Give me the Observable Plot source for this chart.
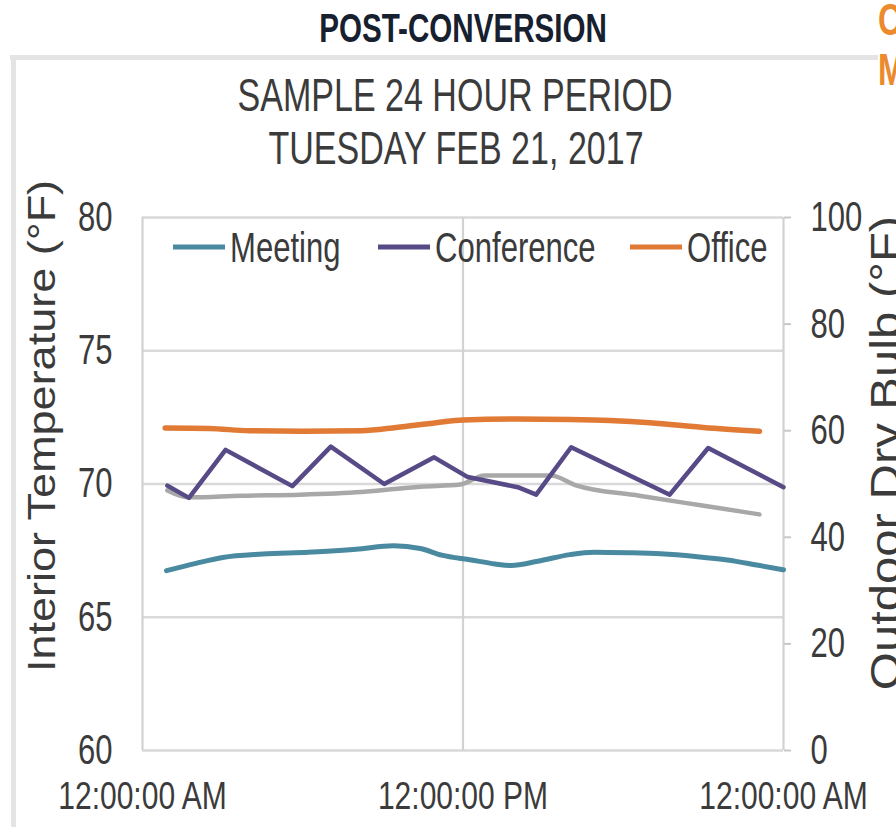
<!DOCTYPE html>
<html>
<head>
<meta charset="utf-8">
<script src="https://cdn.jsdelivr.net/npm/d3@7"></script>
<script src="https://cdn.jsdelivr.net/npm/@observablehq/plot@0.6"></script>
<style>
html, body { margin: 0; padding: 0; background: #fff; overflow: hidden; }
#chart { position: relative; width: 896px; height: 827px; }
</style>
</head>
<body>
<div id="chart"></div>
<script>
// ---- text ----
const pageTitle = "POST-CONVERSION";
const cornerText = ["C", "M"];
const chartTitle = ["SAMPLE 24 HOUR PERIOD", "TUESDAY FEB 21, 2017"];
const leftAxisTitle = "Interior Temperature (°F)";
const rightAxisTitle = "Outdoor Dry Bulb (°F)";
const seriesNames = ["Meeting", "Conference", "Office"];
const seriesColors = ["#4a8aa0", "#574a86", "#e07a35"];
const outdoorColor = "#a8a8a8";

// ---- ticks ----
const xTicks = [0, 12, 24]; // hours of the day
const xTickLabels = ["12:00:00 AM", "12:00:00 PM", "12:00:00 AM"];
const leftTicks = [60, 65, 70, 75, 80];
const rightTicks = [0, 20, 40, 60, 80, 100];

// ---- series (hour of day, °F) ----
const meetingHours = [0.9, 2, 3, 4.5, 6.2, 8, 9.4, 10.4, 11.2, 12.3, 13.2, 13.8, 14.8, 16, 16.9, 18.2, 19.4, 20.7, 21.9, 23, 24];
const meetingTemps = [66.75, 67.02, 67.24, 67.37, 67.44, 67.55, 67.68, 67.58, 67.33, 67.15, 67.0, 66.94, 67.1, 67.35, 67.44, 67.42, 67.38, 67.28, 67.15, 66.96, 66.78];

const conferenceHours = [0.93, 1.74, 3.11, 5.61, 7.05, 9.05, 10.92, 12.18, 14.05, 14.74, 16.05, 19.74, 21.18, 24];
const conferenceTemps = [69.94, 69.48, 71.28, 69.92, 71.4, 70.0, 71.0, 70.26, 69.88, 69.6, 71.38, 69.6, 71.35, 69.88];

const officeHours = [0.85, 2.5, 4, 6, 8.2, 9.5, 11, 12, 14, 16, 17.5, 19, 21, 23.1];
const officeTemps = [72.1, 72.08, 72.0, 71.98, 72.0, 72.12, 72.3, 72.4, 72.44, 72.42, 72.38, 72.3, 72.12, 71.98];

const outdoorHours = [0.93, 1.74, 3.7, 5.9, 8.2, 10.4, 11.9, 12.8, 15.3, 16.2, 18.6, 20.9, 23.1];
const outdoorTemps = [48.8, 47.5, 47.8, 48.0, 48.5, 49.5, 49.9, 51.6, 51.6, 49.8, 47.8, 46.0, 44.3];

// secondary axis (0–100 °F outdoor) mapped onto the interior axis (60–80 °F)
const toInterior = d3.scaleLinear().domain([0, 100]).range([60, 80]);

const rows = (name, hours, temps) => hours.map((h, i) => ({series: name, hour: h, temp: temps[i]}));
const meeting = rows(seriesNames[0], meetingHours, meetingTemps);
const conference = rows(seriesNames[1], conferenceHours, conferenceTemps);
const office = rows(seriesNames[2], officeHours, officeTemps);
const outdoor = outdoorHours.map((h, i) => ({hour: h, temp: toInterior(outdoorTemps[i])}));

const FONT = "'Liberation Sans', Arial, sans-serif";
const TEXT = "#3b3b3b";
const GRID = "#d9d9d9";
const SQ = 0.74; // horizontal squeeze of text
const SQX = 0.79; // squeeze of x tick labels

const plot = Plot.plot({
  width: 896,
  height: 827,
  marginLeft: 142,
  marginRight: 113,
  marginTop: 217,
  marginBottom: 77,
  style: {fontFamily: FONT, background: "transparent", overflow: "visible"},
  x: {domain: [0, 24]},
  y: {domain: [60, 80]},
  marks: [
    Plot.gridY(leftTicks, {stroke: GRID, strokeOpacity: 1, strokeWidth: 2.5}),
    Plot.gridX(xTicks, {stroke: "#d2d2d2", strokeOpacity: 1, strokeWidth: 2.2}),
    Plot.line(outdoor, {x: "hour", y: "temp", stroke: outdoorColor, strokeWidth: 4.5, curve: "monotone-x"}),
    Plot.line(meeting, {x: "hour", y: "temp", stroke: seriesColors[0], strokeWidth: 5, curve: "monotone-x"}),
    Plot.line(conference, {x: "hour", y: "temp", stroke: seriesColors[1], strokeWidth: 4.5}),
    Plot.line(office, {x: "hour", y: "temp", stroke: seriesColors[2], strokeWidth: 5.5, curve: "monotone-x"}),
    Plot.axisY(leftTicks, {anchor: "left", tickSize: 0, tickPadding: 30, fontSize: 42, fill: TEXT, label: null}),
    Plot.axisY(rightTicks.map(toInterior), {
      anchor: "right", tickSize: 7, tickPadding: 20, stroke: "#c8c8c8", strokeWidth: 2,
      fill: TEXT, fontSize: 42, label: null,
      tickFormat: d => String(Math.round(toInterior.invert(d)))
    }),
    Plot.axisX(xTicks, {
      anchor: "bottom", tickSize: 0, tickPadding: 32, fontSize: 38, fill: TEXT, label: null,
      tickFormat: d => xTickLabels[xTicks.indexOf(d)]
    })
  ]
});

document.getElementById("chart").appendChild(plot);
const svg = d3.select(plot);

// squeeze Plot's own texts horizontally
svg.selectAll("text").each(function () {
  const g = this.closest("g");
  const isX = g && (g.getAttribute("aria-label") || "").startsWith("x-axis");
  const s = isX ? SQX : SQ;
  const t = this.getAttribute("transform");
  if (t) this.setAttribute("transform", t + ` scale(${s},1)`);
  else {
    const x = parseFloat(this.getAttribute("x")) || 0;
    this.setAttribute("x", x / s);
    this.setAttribute("transform", `scale(${s},1)`);
  }
});

// outer panel border (drawn beneath everything)
const border = svg.insert("g", ":first-child");
border.append("rect").attr("x", 10).attr("y", 55).attr("width", 868).attr("height", 5).attr("fill", "#e4e4e4");
border.append("rect").attr("x", 11).attr("y", 55).attr("width", 5).attr("height", 800).attr("fill", "#e4e4e4");

const deco = svg.append("g").attr("font-family", FONT);
function addText(str, x, y, opts = {}) {
  return deco.append("text")
    .attr("transform", `translate(${x},${y}) scale(${opts.sx ?? SQ},1)`)
    .attr("text-anchor", opts.anchor || "middle")
    .attr("font-size", opts.size || 40)
    .attr("font-weight", opts.weight || "normal")
    .attr("fill", opts.fill || TEXT)
    .text(str);
}

addText(pageTitle, 463, 42, {size: 40, weight: "bold", fill: "#16202e"});
addText(cornerText[0], 878, 35, {size: 44, weight: "bold", fill: "#ec8a2e", anchor: "start"});
addText(cornerText[1], 878, 85, {size: 44, weight: "bold", fill: "#ec8a2e", anchor: "start"});
addText(chartTitle[0], 455, 111, {size: 46});
addText(chartTitle[1], 456, 164, {size: 46});

// legend
const legendX = [173, 378, 630];
seriesNames.forEach((name, i) => {
  deco.append("line")
    .attr("x1", legendX[i]).attr("x2", legendX[i] + 52)
    .attr("y1", 247).attr("y2", 247)
    .attr("stroke", seriesColors[i]).attr("stroke-width", 5);
  addText(name, legendX[i] + 57, 262, {size: 42, anchor: "start"});
});

// axis titles
deco.append("text")
  .attr("transform", "translate(55,426) rotate(-90) scale(1,0.85)")
  .attr("text-anchor", "middle").attr("font-size", 45).attr("fill", TEXT)
  .text(leftAxisTitle);
deco.append("text")
  .attr("transform", "translate(900,453) rotate(-90) scale(1,0.85)")
  .attr("text-anchor", "middle").attr("font-size", 49).attr("fill", TEXT)
  .text(rightAxisTitle);
</script>
</body>
</html>
